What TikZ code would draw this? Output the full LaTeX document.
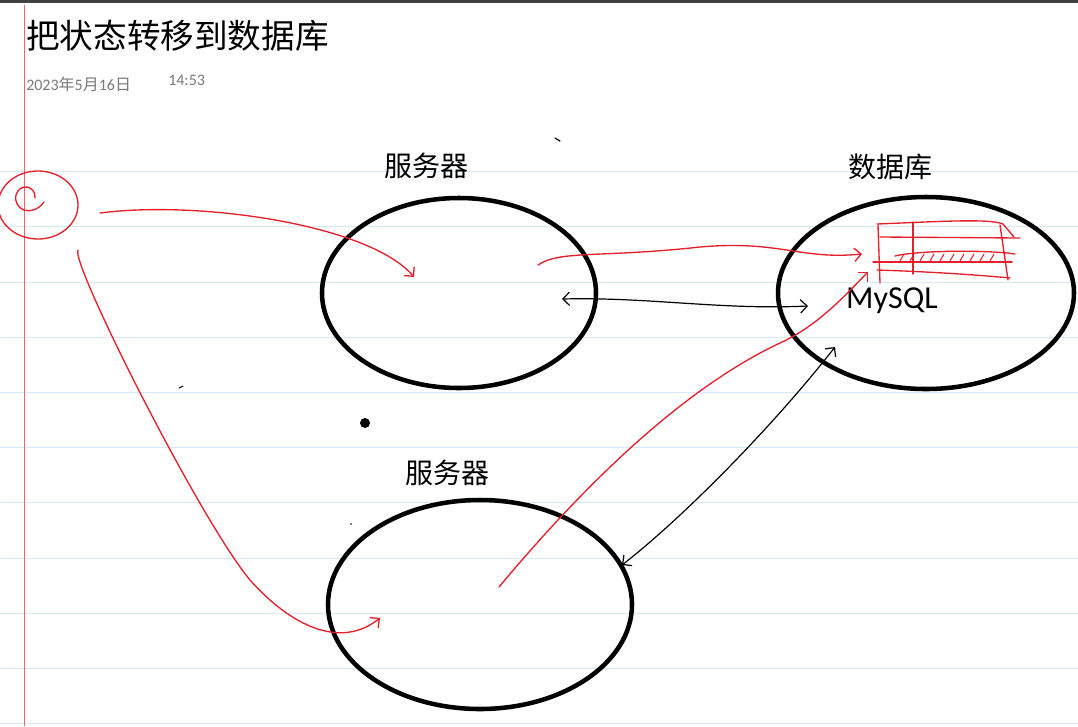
\documentclass[tikz,border=0pt]{standalone}
\usepackage{fontspec}
\setmainfont{Carlito}
\newfontfamily\cjk{Noto Sans CJK SC}
\usetikzlibrary{shapes.geometric,arrows.meta}
\definecolor{inkred}{HTML}{E5202B}
\definecolor{rulecol}{HTML}{D6EAF6}
\definecolor{margincol}{HTML}{F06464}
\definecolor{topbar}{HTML}{404040}
\definecolor{stamp}{HTML}{7A7A7A}

\begin{document}
\begin{tikzpicture}[x=0.75pt,y=-0.75pt]
                \tikzset{ink/.style={inkred,line width=1pt,line cap=round},
                         pen/.style={black,line width=0.9pt,line cap=round},
                         barb/.style={-{Straight Barb[length=5pt,width=10pt]}},
                         barbs/.style={{Straight Barb[length=5pt,width=10pt]}-{Straight Barb[length=5pt,width=10pt]}}}
                \tikzstyle{machine}=[ellipse,draw,line width=3.4pt,inner sep=0pt]
                \tikzstyle{hand}=[font=\cjk\fontsize{21}{21}\selectfont,inner sep=0pt]
                \useasboundingbox (0,0) rectangle (1078,726);
                % paper
                \fill[topbar] (0,0) rectangle (1078,3);
                \foreach \k in {0,...,10}
                  \draw[rulecol,line width=0.8pt] (0,171.7+55.2*\k) -- (1078,171.7+55.2*\k);
                \draw[margincol,line width=0.8pt] (24.5,5) -- (24.5,726);
                \node[anchor=base west,inner sep=0pt,font=\cjk\fontsize{25.2}{25.2}\selectfont] (title) at (26,48) {把状态转移到数据库};
                \node[anchor=base west,inner sep=0pt,text=stamp,font=\fontsize{12}{12}\selectfont] (date) at (26,90) {2023{\cjk 年}5{\cjk 月}16{\cjk 日}};
                \node[anchor=base west,inner sep=0pt,text=stamp,font=\fontsize{12}{12}\selectfont] (time) at (168,85) {14:53};
                % machines
                \node[machine,minimum width=205.5pt,minimum height=142.5pt] (srvA) at (459,293) {};
                \node[machine,minimum width=222pt,minimum height=144pt] (db) at (926,293) {};
                \node[machine,minimum width=228pt,minimum height=156.75pt] (srvB) at (480,604.5) {};
                \node[hand] (srvAlabel) at (426,166) {服务器};
                \node[hand] (dblabel) at (890,167) {数据库};
                \node[hand] (srvBlabel) at (447,473) {服务器};
                \node[inner sep=0pt,font=\fontsize{24}{24}\selectfont] (mysql) at (892,301) {MySQL};
                % client doodle
                \coordinate (client) at (38,205);
                \draw[ink] (client) ++(170:40 and 34) arc[start angle=170,end angle=-172,x radius=40,y radius=34];
                \draw[ink] (35,198) .. controls (36,186) and (20,182) .. (16,195) .. controls (13,210) and (32,218) .. (44,202);
                % red state moves
                \coordinate (cA) at (100,213);
                \coordinate (cB) at (78,250);
                \coordinate (inA) at (414,277);
                \coordinate (inB) at (380,618);
                \coordinate (outA) at (538,265);
                \coordinate (outB) at (499,587);
                \coordinate (tblA) at (862,254);
                \coordinate (tblB) at (868,272);
                \draw[ink,barb] (cA) .. controls (200,200) and (370,225) .. (inA);
                \draw[ink,barb] (cB) .. controls (70,262) and (200,520) .. (250,580) .. controls (290,625) and (340,650) .. (inB);
                \draw[ink,barb] (outA) .. controls (560,250) and (600,258) .. (700,247) .. controls (780,240) and (800,260) .. (tblA);
                \draw[ink,barb] (outB) .. controls (580,490) and (680,390) .. (780,343) .. controls (820,325) and (850,290) .. (tblB);
                % table
                \draw[ink] (877,224) .. controls (930,222) and (990,218) .. (1003,224) -- (1014,237);
                \draw[ink] (880,237) -- (1020,238);
                \draw[ink] (895,256) .. controls (920,250) and (990,250) .. (1015,254);
                \draw[ink] (873,262) -- (1012,262);
                \draw[ink] (877,270) .. controls (940,272) and (990,276) .. (1010,278);
                \draw[ink] (878,225) -- (880,283);
                \draw[ink] (913,222) -- (913,274);
                \draw[ink] (1000,225) -- (1008,280);
                \foreach \x in {900,910,...,995}
                  \draw[ink,line width=0.8pt] (\x,261) -- (\x+4,254);
                % links to the database
                \coordinate (linkA) at (562,299);
                \coordinate (linkDb) at (808,306);
                \coordinate (linkB) at (622,565);
                \coordinate (linkDb2) at (835,347);
                \draw[pen,barbs] (linkA) .. controls (650,297) and (720,310) .. (linkDb);
                \draw[pen,barbs] (linkB) .. controls (680,520) and (770,430) .. (linkDb2);
                % stray marks
                \fill (365,423) circle (5);
                \draw[pen] (555,138) -- (560,141);
                \draw[pen,line width=0.7pt] (179,388) -- (183,386);
                \fill (351,524) circle (0.8);
            \end{tikzpicture}
\end{document}
